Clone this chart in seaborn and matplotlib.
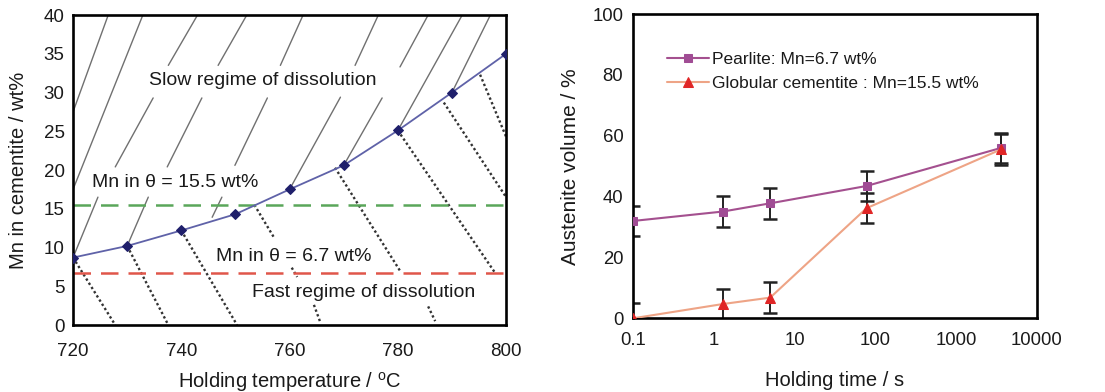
import matplotlib
matplotlib.use("Agg")
import matplotlib.pyplot as plt
import seaborn as sns

# left panel: Mn in cementite vs holding temperature
temp_c = [720, 730, 740, 750, 760, 770, 780, 790, 800]
mn_wt = [8.7, 10.2, 12.2, 14.3, 17.5, 20.6, 25.1, 30.0, 35.0]
mn_pearlite = 6.7
mn_globular = 15.5

# guide lines, slow regime (solid): start temp, start Mn, end temp, end Mn
slow_t0 = [726.5, 732.9, 743.0, 752.1, 762.5, 776.4, 785.6, 791.9, 797.1,
           734.8, 743.8, 755.9, 769.4, 777.1, 724.6, 733.9, 747.5]
slow_m0 = [40, 40, 40, 40, 40, 40, 40, 40, 40,
           29.3, 29.3, 29.3, 29.4, 29.3, 16.5, 16.5, 16.5]
slow_t1 = [720.0, 720.0, 737.6, 746.8, 758.3, 772.1, 780.4, 780.0, 790.0,
           727.8, 737.4, 749.9, 760.0, 770.0, 720.0, 730.0, 745.7]
slow_m1 = [27.5, 17.5, 33.5, 33.5, 33.5, 33.5, 33.3, 25.1, 30.0,
           20.4, 20.4, 20.6, 17.5, 20.6, 8.7, 10.2, 13.9]

# guide lines, fast regime (dotted)
fast_t0 = [720.0, 730.0, 740.0, 753.5, 760.4, 764.5, 768.4, 785.6, 780.0, 788.5, 795.2]
fast_m0 = [8.7, 10.2, 12.2, 15.5, 7.4, 2.6, 20.3, 2.4, 25.1, 28.7, 32.3]
fast_t1 = [727.8, 737.6, 750.3, 757.2, 761.4, 765.6, 780.4, 786.9, 798.0, 800.0, 800.0]
fast_m1 = [0.0, 0.0, 0.0, 11.2, 6.2, 0.5, 7.0, 0.5, 6.7, 16.5, 24.3]

# right panel: austenite volume vs holding time
hold_time = [0.1, 1.3, 5, 78, 3600]
pearlite_vol = [32.0, 35.1, 37.8, 43.5, 56.0]
pearlite_err = [5.0, 5.0, 5.0, 5.0, 5.0]
globular_vol = [0.0, 4.7, 6.8, 36.2, 55.5]
globular_err = [5.0, 5.0, 5.0, 5.0, 5.0]
time_ticks = [0.1, 1, 10, 100, 1000, 10000]
time_labels = ["0.1", "1", "10", "100", "1000", "10000"]

sns.set_theme(style="white")
plt.rcParams["font.family"] = ["Liberation Sans", "DejaVu Sans"]
plt.rcParams["mathtext.fontset"] = "custom"
plt.rcParams["mathtext.rm"] = "Liberation Sans"
for key in ["text.color", "axes.labelcolor", "xtick.color", "ytick.color"]:
    plt.rcParams[key] = "#1a1a1a"

fig = plt.figure(figsize=(11.05, 3.92), dpi=100)
ax1 = fig.add_axes([0.0661, 0.1709, 0.3919, 0.7908])
ax2 = fig.add_axes([0.5729, 0.188, 0.3653, 0.776])

# ---- left panel
for t0, m0, t1, m1 in zip(slow_t0, slow_m0, slow_t1, slow_m1):
    ax1.plot([t0, t1], [m0, m1], color="#707070", lw=1.0, zorder=1)
for t0, m0, t1, m1 in zip(fast_t0, fast_m0, fast_t1, fast_m1):
    ax1.plot([t0, t1], [m0, m1], color="#333333", lw=1.7, ls=(0, (1, 1.1)), zorder=1)

ax1.axhline(mn_globular, color="#5aa65a", lw=1.8, ls=(0, (7, 4)), zorder=2)
ax1.axhline(mn_pearlite, color="#e0564a", lw=1.8, ls=(0, (7, 4)), zorder=2)

sns.lineplot(x=temp_c, y=mn_wt, ax=ax1, color="#5f62a8", lw=1.3, marker="D",
             markersize=5, markerfacecolor="#1f1f6b", markeredgecolor="#1f1f6b",
             estimator=None, sort=False, legend=False, zorder=3)

ax1.text(755, 31.6, "Slow regime of dissolution", fontsize=14, ha="center", va="center")
ax1.text(723.5, 18.4, "Mn in \u03b8 = 15.5 wt%", fontsize=14, ha="left", va="center")
ax1.text(746.5, 8.9, "Mn in \u03b8 = 6.7 wt%", fontsize=14, ha="left", va="center")
ax1.text(753, 4.2, "Fast regime of dissolution", fontsize=14, ha="left", va="center")

ax1.set_xlim(720, 800)
ax1.set_ylim(0, 40)
ax1.set_xticks([720, 740, 760, 780, 800])
ax1.set_yticks(range(0, 41, 5))
ax1.tick_params(axis="y", direction="in", length=5, width=1.8, labelsize=13.5, pad=6)
ax1.tick_params(axis="x", direction="in", length=0, labelsize=13.5, pad=13)
ax1.set_xlabel("Holding temperature / $^{\\mathrm{o}}$C", fontsize=14.5, labelpad=7)
ax1.set_ylabel("Mn in cementite / wt%", fontsize=14.5, labelpad=11)
for s in ax1.spines.values():
    s.set_linewidth(1.9)
    s.set_color("black")

# ---- right panel
sns.lineplot(x=hold_time, y=pearlite_vol, ax=ax2, color="#a4508f", lw=1.5, marker="s",
             markersize=6, markerfacecolor="#a04c94", markeredgecolor="#a04c94",
             estimator=None, sort=False, label="Pearlite: Mn=6.7 wt%", zorder=3)
sns.lineplot(x=hold_time, y=globular_vol, ax=ax2, color="#eea486", lw=1.5, marker="^",
             markersize=7, markerfacecolor="#e02626", markeredgecolor="#e02626",
             estimator=None, sort=False, label="Globular cementite : Mn=15.5 wt%", zorder=4)
ax2.errorbar(hold_time, pearlite_vol, yerr=pearlite_err, fmt="none", ecolor="#222222",
             elinewidth=1.4, capsize=5, capthick=1.8, zorder=2)
ax2.errorbar(hold_time, globular_vol, yerr=globular_err, fmt="none", ecolor="#222222",
             elinewidth=1.4, capsize=5, capthick=1.8, zorder=2)

ax2.set_xscale("log")
ax2.set_xlim(0.1, 10000)
ax2.set_ylim(0, 100)
ax2.set_xticks(time_ticks)
ax2.set_xticklabels(time_labels)
ax2.minorticks_off()
ax2.set_yticks(range(0, 101, 20))
ax2.tick_params(axis="both", direction="in", length=6, width=1.8, labelsize=13.3)
ax2.tick_params(axis="x", pad=10)
ax2.tick_params(axis="y", pad=7)
ax2.set_xlabel("Holding time / s", fontsize=14.5, labelpad=16)
ax2.set_ylabel("Austenite volume / %", fontsize=15, labelpad=9)
for s in ax2.spines.values():
    s.set_linewidth(1.9)
    s.set_color("black")

ax2.legend(loc="upper left", bbox_to_anchor=(0.085, 0.875), frameon=False,
           fontsize=12.5, handlelength=2.4, handletextpad=0.15, borderpad=0,
           borderaxespad=0, labelspacing=0.5)

fig.savefig("out.png", dpi=100)
